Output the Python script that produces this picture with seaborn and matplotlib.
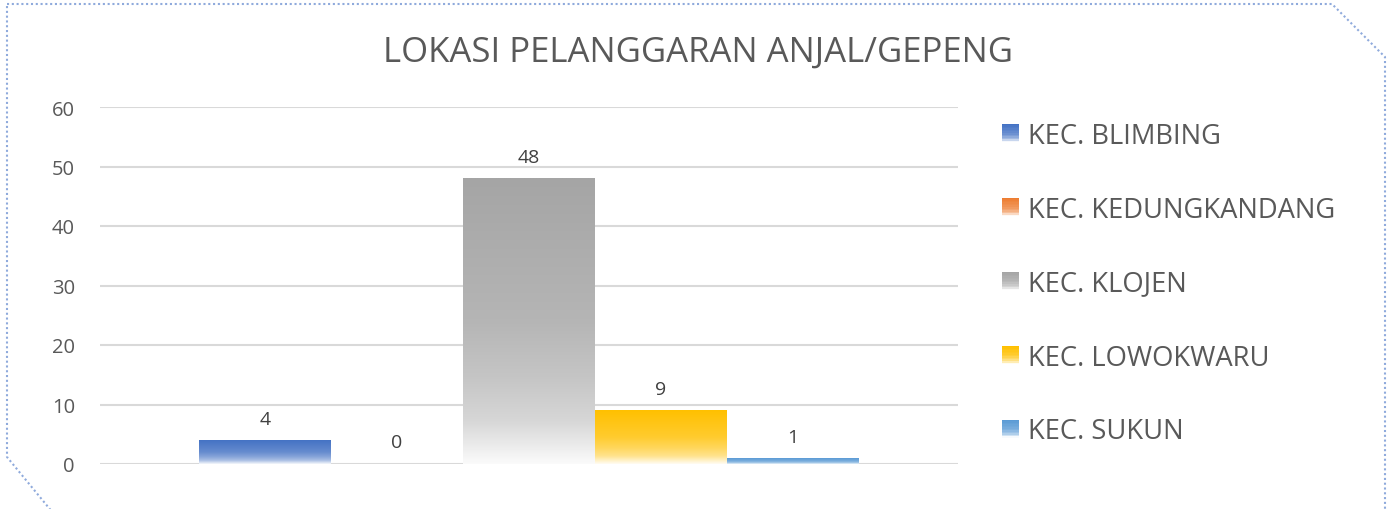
import numpy as np
import pandas as pd
import matplotlib
matplotlib.use('Agg')
import matplotlib.pyplot as plt
import seaborn as sns
from matplotlib.colors import to_rgb
from matplotlib.patches import Rectangle
from matplotlib.legend_handler import HandlerBase
from matplotlib.lines import Line2D

# data
kecamatan = ['KEC. BLIMBING', 'KEC. KEDUNGKANDANG', 'KEC. KLOJEN', 'KEC. LOWOKWARU', 'KEC. SUKUN']
jumlah = [4, 0, 48, 9, 1]
warna = ['#4472C4', '#ED7D31', '#A5A5A5', '#FFC000', '#5B9BD5']
df = pd.DataFrame({'kecamatan': kecamatan, 'jumlah': jumlah})

sns.set_theme(style='white')
plt.rcParams['font.family'] = ['Open Sans', 'DejaVu Sans']

# white mix along the bar (0 = top, 1 = bottom)
stops_t = [0.0, 0.5, 0.7, 0.85, 1.0]
stops_w = [0.0, 0.18, 0.36, 0.55, 0.95]


def gradient_img(color, n=200):
    t = np.linspace(0, 1, n)
    w = np.interp(t, stops_t, stops_w)
    c = np.array(to_rgb(color))
    rgb = c[None, :] * (1 - w[:, None]) + w[:, None]
    return rgb[:, None, :]


fig = plt.figure(figsize=(13.92, 5.10), dpi=100)
ax = fig.add_axes([100 / 1392, 45 / 510, 858 / 1392, 357 / 510])

sns.barplot(data=df, x='kecamatan', y='jumlah', hue='kecamatan', palette=warna,
            width=1.0, legend=False, ax=ax)

for patch, col in zip(ax.patches, warna):
    x0, y0 = patch.get_x(), patch.get_y()
    w, h = patch.get_width(), patch.get_height()
    patch.set_facecolor('none')
    patch.set_edgecolor('none')
    if h > 0:
        im = ax.imshow(gradient_img(col), extent=(x0, x0 + w, y0, y0 + h),
                       aspect='auto', zorder=2, interpolation='bilinear')
        im.set_clip_path(patch)

for cont in ax.containers:
    ax.bar_label(cont, fmt='%g', padding=9, fontsize=14, color='#404040')

ax.set_xlim(-1.25, 5.25)
ax.set_ylim(0, 60)
ax.set_yticks(range(0, 61, 10))
ax.set_xticks([])
ax.set_xlabel('')
ax.set_ylabel('')
ax.tick_params(axis='y', labelsize=14.5, labelcolor='#595959', length=0, pad=18)
ax.grid(axis='y', color='#D9D9D9', linewidth=1.5)
ax.set_axisbelow(True)
for s in ax.spines.values():
    s.set_visible(False)

fig.text(698 / 1392, 1 - 53 / 510, 'LOKASI PELANGGARAN ANJAL/GEPENG',
         ha='center', va='center', fontsize=25, color='#595959')


# legend with gradient squares
class GradHandler(HandlerBase):
    def __init__(self, color):
        super().__init__()
        self.color = color

    def create_artists(self, legend, orig_handle, xdescent, ydescent, width, height, fontsize, trans):
        arts = []
        n = 12
        img = gradient_img(self.color, n)[:, 0, :]
        for i in range(n):
            r = Rectangle((-xdescent, -ydescent + height * (1 - (i + 1) / n)), width, height / n,
                          facecolor=img[i], edgecolor='none', transform=trans)
            arts.append(r)
        return arts


handles = [Line2D([], []) for _ in kecamatan]
hmap = {h: GradHandler(c) for h, c in zip(handles, warna)}
fig.legend(handles, kecamatan, handler_map=hmap, loc='upper left',
           bbox_to_anchor=(977 / 1392, 1 - 98 / 510), frameon=False,
           fontsize=19.7, labelcolor='#595959', labelspacing=1.68,
           handlelength=0.65, handleheight=0.65, handletextpad=0.32)

# dotted chart border with cut corners
bx = [7, 1332, 1385, 1385, 58, 7, 7]
by = [5, 5, 58, 520, 520, 458, 5]
fig.add_artist(Line2D(np.array(bx) / 1392, 1 - np.array(by) / 510, transform=fig.transFigure,
                      color='#8FAADC', linewidth=1.5, linestyle=(0, (1, 1.3))))

fig.savefig('out.png', dpi=100)
